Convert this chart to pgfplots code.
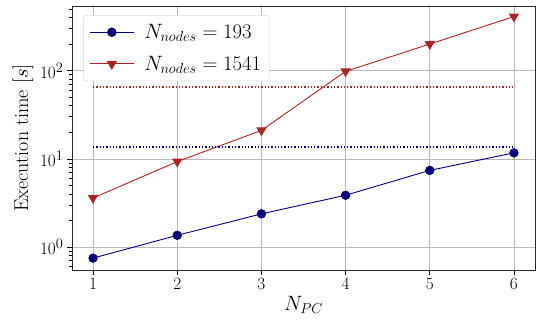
\documentclass[border=0pt]{standalone}
\usepackage{pgfplots}
\pgfplotsset{compat=1.18}
\definecolor{cblue}{RGB}{0,0,128}
\definecolor{cred}{RGB}{178,34,34}
\begin{document}
\begin{tikzpicture}
\begin{axis}[
  scale only axis, width=463pt, height=264pt,
  ymode=log, log basis y=10,
  xmin=0.75, xmax=6.25, ymin=0.55, ymax=540,
  xtick={1,2,3,4,5,6},
  ytick={1,10,100},
  minor ytick={0.6,0.7,0.8,0.9,2,3,4,5,6,7,8,9,20,30,40,50,60,70,80,90,200,300,400,500},
  tick align=outside, xtick pos=left, ytick pos=left,
  xmajorgrids=true, ymajorgrids=true, yminorgrids=false,
  major grid style={gray!55, line width=0.6pt},
  every tick/.style={black, line width=0.6pt},
  major tick length=5pt, minor tick length=3pt,
  axis line style={line width=0.8pt, black!85},
  ticklabel style={font=\fontsize{19}{22}\selectfont},
  label style={font=\fontsize{20}{24}\selectfont},
  xlabel={$N_{PC}$}, ylabel={Execution time $[s]$},
  legend style={at={(0.024,0.965)}, anchor=north west, font=\fontsize{19.5}{23}\selectfont,
    draw=gray!30, rounded corners=3pt, fill=white,
    inner xsep=6pt, inner ysep=7pt, row sep=12pt},
  legend cell align=left,
]
\addlegendimage{legend image code/.code={\draw[draw=cblue, line width=1pt, mark=*, mark size=4.2pt, mark repeat=2, mark phase=2, mark options={fill=cblue, draw=cblue}] plot coordinates {(0pt,0pt) (22pt,0pt) (44pt,0pt)};}}
\addlegendentry{\hspace{8pt}$N_{nodes}=193$}
\addlegendimage{legend image code/.code={\draw[draw=cred, line width=1pt, mark=triangle*, mark size=5pt, mark repeat=2, mark phase=2, mark options={rotate=180, fill=cred, draw=cred}] plot coordinates {(0pt,0pt) (22pt,0pt) (44pt,0pt)};}}
\addlegendentry{\hspace{8pt}$N_{nodes}=1541$}
\addplot[cblue, line width=0.9pt, mark=*, mark size=4.2pt, forget plot] coordinates {
 (1,0.75) (2,1.36) (3,2.38) (4,3.87) (5,7.4) (6,11.7)};
\addplot[cred, line width=0.9pt, mark=triangle*, mark size=5pt, mark options={rotate=180}, forget plot] coordinates {
 (1,3.6) (2,9.3) (3,21) (4,98) (5,200) (6,410)};
\addplot[cblue, dotted, line width=1.3pt, forget plot] coordinates {(1,13.6) (6,13.6)};
\addplot[cred, dotted, line width=1.3pt, forget plot] coordinates {(1,65) (6,65)};
\end{axis}
\path (current axis.south west) ++(-72pt,-53pt) rectangle ++(538pt,323pt);
\end{tikzpicture}
\end{document}
